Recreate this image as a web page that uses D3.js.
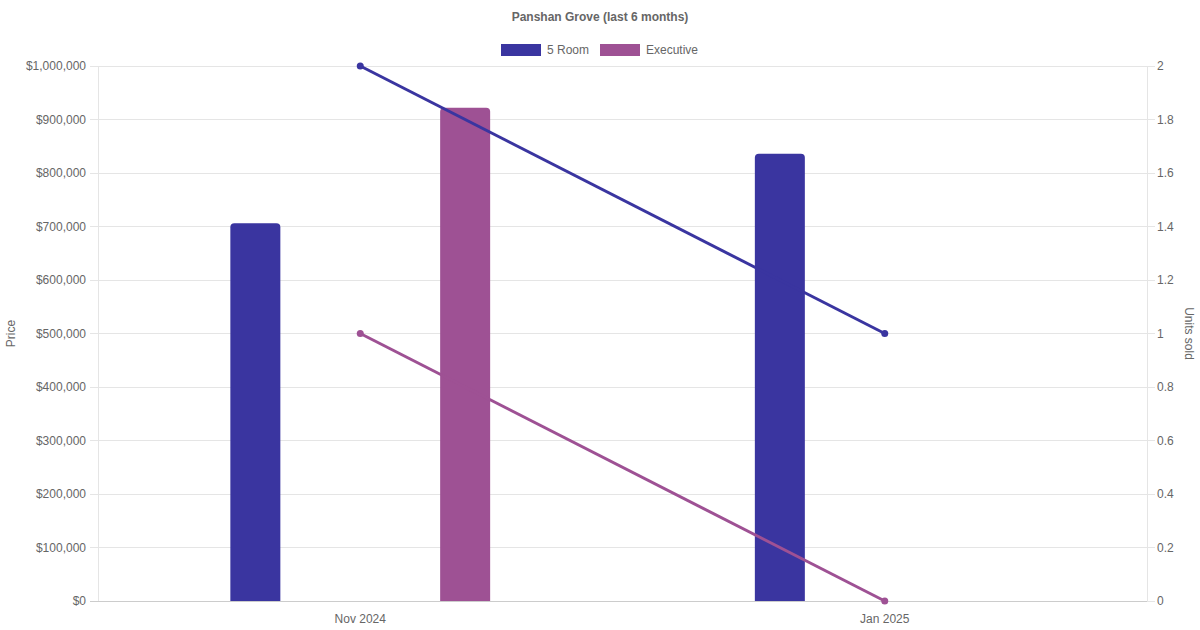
<!DOCTYPE html>
<html><head><meta charset="utf-8">
<script src="https://cdn.jsdelivr.net/npm/d3@7"></script>
<style>body{margin:0;background:#fff}svg{display:block}text{font-family:"Liberation Sans",Arial,Helvetica,sans-serif}</style>
</head><body><svg id="c" width="1200" height="630"></svg>
<script>
const categories = ["Nov 2024", "Jan 2025"];
const seriesNames = ["5 Room", "Executive"];
const priceFiveRoom = [706000, 836000];
const priceExecutive = [922000, null];
const unitsFiveRoom = [2, 1];
const unitsExecutive = [1, 0];
const priceTicks = [0,100000,200000,300000,400000,500000,600000,700000,800000,900000,1000000];
const unitTicks = [0,0.2,0.4,0.6,0.8,1,1.2,1.4,1.6,1.8,2];
const colors = ["#3a35a0", "#9e5194"];

const svg = d3.select("#c");
const L = 98, R = 1147, T = 66, B = 601;
const x = d3.scaleBand().domain(categories).range([L, R]);
const yL = d3.scaleLinear().domain([0, 1000000]).range([B, T]);
const yR = d3.scaleLinear().domain([0, 2]).range([B, T]);
const fmt = v => "$" + d3.format(",")(v);

// grid
svg.append("g").selectAll("line").data(priceTicks).join("line")
  .attr("x1", L - 8).attr("x2", R).attr("y1", d => yL(d)).attr("y2", d => yL(d))
  .attr("stroke", d => d === 0 ? "#cccccc" : "#e5e5e5").attr("stroke-width", 1)
  .attr("shape-rendering", "crispEdges");
svg.append("g").selectAll("line").data(unitTicks).join("line")
  .attr("x1", R).attr("x2", R + 8).attr("y1", d => yR(d)).attr("y2", d => yR(d))
  .attr("stroke", "#e5e5e5").attr("shape-rendering", "crispEdges");
svg.append("line").attr("x1", L).attr("x2", L).attr("y1", T).attr("y2", B)
  .attr("stroke", "#e5e5e5").attr("shape-rendering", "crispEdges");
svg.append("line").attr("x1", R).attr("x2", R).attr("y1", T).attr("y2", B)
  .attr("stroke", "#e5e5e5").attr("shape-rendering", "crispEdges");
svg.append("line").attr("x1", L).attr("x2", R).attr("y1", B).attr("y2", B)
  .attr("stroke", "#cccccc").attr("shape-rendering", "crispEdges");

// tick labels
svg.append("g").selectAll("text").data(priceTicks).join("text")
  .attr("x", L - 12).attr("y", d => yL(d)).attr("dy", "0.35em").attr("text-anchor", "end")
  .attr("font-size", 12).attr("fill", "#666").text(fmt);
svg.append("g").selectAll("text").data(unitTicks).join("text")
  .attr("x", R + 10).attr("y", d => yR(d)).attr("dy", "0.35em").attr("text-anchor", "start")
  .attr("font-size", 12).attr("fill", "#666").text(d => d3.format("~g")(d));
svg.append("g").selectAll("text").data(categories).join("text")
  .attr("x", d => x(d) + x.bandwidth() / 2).attr("y", 623).attr("text-anchor", "middle")
  .attr("font-size", 12).attr("fill", "#666").text(d => d);

// axis titles
svg.append("text").attr("transform", `translate(15,${(T + B) / 2}) rotate(-90)`)
  .attr("text-anchor", "middle").attr("font-size", 12).attr("fill", "#666").text("Price");
svg.append("text").attr("transform", `translate(1185,${(T + B) / 2}) rotate(90)`)
  .attr("text-anchor", "middle").attr("font-size", 12).attr("fill", "#666").text("Units sold");

// bars
const inner = d3.scaleBand().domain(seriesNames).range([0, x.bandwidth()]).paddingOuter(0.1 / 0.8 * 0.5 * 2 / 2);
const groupW = x.bandwidth() * 0.8 / 2;
const barW = 50, rad = 4;
const priceSeries = [priceFiveRoom, priceExecutive];
function barPath(x0, y0, w, h, r) {
  return `M${x0},${y0 + h}V${y0 + r}Q${x0},${y0} ${x0 + r},${y0}H${x0 + w - r}Q${x0 + w},${y0} ${x0 + w},${y0 + r}V${y0 + h}Z`;
}
priceSeries.forEach((vals, si) => {
  svg.append("g").selectAll("path").data(vals.map((v, i) => ({v, c: categories[i]})).filter(d => d.v != null))
    .join("path")
    .attr("d", d => {
      const cx = x(d.c) + x.bandwidth() * 0.1 + groupW * (si + 0.5);
      const y0 = yL(d.v);
      return barPath(cx - barW / 2, y0, barW, B - y0, rad);
    })
    .attr("fill", colors[si]);
});

// lines
const unitSeries = [unitsFiveRoom, unitsExecutive];
unitSeries.forEach((vals, si) => {
  const pts = vals.map((v, i) => [x(categories[i]) + x.bandwidth() / 2, yR(v)]);
  svg.append("path").attr("d", d3.line()(pts)).attr("fill", "none")
    .attr("stroke", colors[si]).attr("stroke-width", 3);
  svg.append("g").selectAll("circle").data(pts).join("circle")
    .attr("cx", d => d[0]).attr("cy", d => d[1]).attr("r", 3.5).attr("fill", colors[si]);
});

// title
svg.append("text").attr("x", 600).attr("y", 21).attr("text-anchor", "middle")
  .attr("font-size", 12).attr("font-weight", "bold").attr("fill", "#666").text("Panshan Grove (last 6 months)");

// legend
const lg = [{n: seriesNames[0], x: 501, w: 40}, {n: seriesNames[1], x: 600, w: 40}];
lg.forEach((d, i) => {
  svg.append("rect").attr("x", d.x).attr("y", 44).attr("width", d.w).attr("height", 12).attr("fill", colors[i]);
  svg.append("text").attr("x", d.x + d.w + 6).attr("y", 50).attr("dy", "0.35em")
    .attr("font-size", 12).attr("fill", "#666").text(d.n);
});
</script></body></html>
